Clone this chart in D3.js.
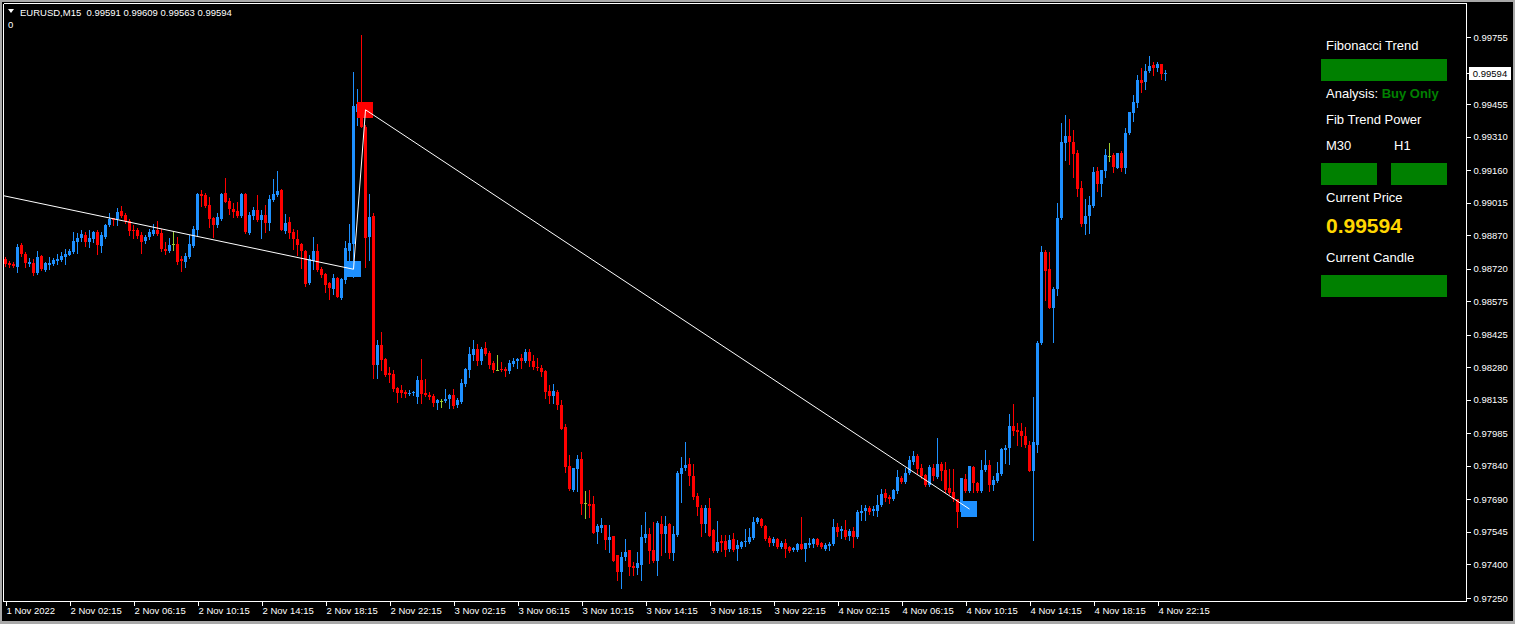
<!DOCTYPE html>
<html><head><meta charset="utf-8">
<script src="https://cdn.jsdelivr.net/npm/d3@7"></script>
<style>html,body{margin:0;padding:0;background:#000;overflow:hidden}svg{display:block}</style>
</head><body><script>
const symbol = "EURUSD,M15";
const opens = [
98764,98747,98743,98728,98826,98786,98741,98746,98700,98777,
98715,98737,98741,98755,98759,98771,98783,98795,98841,98857,
98871,98841,98854,98884,98823,98863,98915,98945,98941,98977,
98959,98935,98893,98893,98869,98843,98861,98875,98894,98878,
98808,98801,98830,98830,98762,98750,98771,98822,98893,99055,
99051,99005,98948,98915,98942,99058,99023,98987,98978,98957,
99055,98880,98957,98981,98938,98960,98924,99028,99049,99072,
98889,98927,98885,98853,98830,98801,98655,98756,98801,98718,
98697,98655,98628,98677,98591,98670,98800,98830,99420,99429,
99354,98863,98956,98290,98380,98316,98256,98250,98188,98179,
98171,98159,98164,98149,98223,98165,98156,98152,98121,98130,
98130,98138,98156,98112,98125,98207,98269,98335,98362,98308,
98366,98344,98299,98269,98272,98274,98263,98295,98308,98321,
98308,98348,98308,98281,98277,98263,98174,98152,98170,98112,
98013,97839,97733,97826,97871,97674,97670,97670,97546,97564,
97576,97509,97527,97442,97367,97432,97463,97394,97385,97399,
97518,97536,97464,97415,97580,97536,97580,97452,97531,97804,
97830,97848,97795,97705,97652,97580,97652,97554,97460,97504,
97504,97469,97513,97469,97478,97500,97500,97518,97589,97603,
97571,97518,97495,97513,97478,97495,97478,97464,97464,97491,
97469,97487,97491,97513,97495,97469,97482,97491,97567,97549,
97554,97527,97549,97522,97630,97638,97652,97638,97638,97665,
97719,97701,97692,97728,97786,97768,97808,97857,97884,97830,
97799,97754,97830,97790,97848,97821,97741,97723,97692,97634,
97781,97728,97835,97763,97728,97821,97844,97754,97772,97804,
97911,97920,98018,98000,97996,97973,97933,97817,97933,98389,
98795,98719,98546,98630,98947,99283,99313,99286,99237,99081,
98920,98956,99000,99156,99098,99158,99223,99228,99170,99237,
99170,99326,99415,99460,99563,99554,99603,99630,99616,99634,
99591].map(v => v / 100000);
const highs = [
98772,98756,98750,98831,98835,98794,98768,98762,98799,98781,
98750,98771,98767,98786,98795,98808,98808,98883,98880,98892,
98884,98893,98888,98892,98886,98920,98969,98947,98991,99000,
98968,98942,98914,98902,98884,98872,98896,98920,98933,98899,
98838,98856,98884,98861,98776,98792,98869,98911,99060,99072,
99057,99042,98950,98970,99060,99125,99037,99014,99018,99058,
99058,98973,98996,99049,98982,99005,99049,99121,99157,99076,
98966,98950,98897,98893,98834,98804,98781,98863,98831,98729,
98700,98662,98697,98685,98677,98845,98920,99599,99523,99764,
99362,99054,98970,98402,98439,98322,98283,98268,98190,98201,
98179,98179,98175,98241,98317,98228,98170,98160,98140,98137,
98183,98161,98183,98143,98228,98277,98371,98402,98384,98371,
98393,98353,98308,98335,98304,98281,98313,98321,98321,98339,
98362,98362,98335,98321,98290,98266,98201,98205,98179,98134,
98027,97888,97832,97888,97902,97728,97732,97705,97580,97607,
97578,97576,97529,97444,97457,97513,97465,97412,97457,97576,
97634,97562,97589,97594,97616,97616,97585,97571,97817,97880,
97947,97875,97848,97719,97665,97665,97697,97556,97594,97531,
97531,97531,97540,97509,97504,97558,97562,97612,97612,97607,
97576,97527,97522,97518,97504,97513,97482,97479,97494,97612,
97497,97518,97518,97518,97500,97495,97500,97603,97585,97571,
97598,97558,97567,97643,97665,97665,97661,97661,97710,97737,
97737,97710,97737,97821,97795,97830,97884,97906,97893,97848,
97804,97844,97848,97964,97857,97857,97826,97826,97694,97788,
97804,97841,97839,97768,97866,97911,97866,97795,97857,97920,
97933,98071,98116,98031,98031,98013,97951,98147,98397,98822,
98804,98795,98639,99014,99371,99407,99389,99340,99250,99112,
99031,99045,99174,99174,99163,99255,99282,99237,99239,99246,
99349,99422,99496,99585,99616,99634,99670,99643,99643,99636,
99609].map(v => v / 100000);
const lows = [
98732,98729,98726,98707,98777,98729,98733,98694,98697,98715,
98712,98720,98737,98741,98755,98743,98781,98789,98792,98845,
98820,98817,98839,98787,98797,98859,98912,98915,98915,98952,
98923,98871,98859,98857,98792,98836,98854,98869,98872,98801,
98786,98796,98804,98741,98711,98729,98768,98819,98871,99002,
98997,98908,98863,98908,98938,99017,98966,98952,98950,98952,
98880,98874,98942,98932,98859,98886,98893,99023,99046,98891,
98880,98856,98808,98781,98725,98643,98652,98718,98711,98682,
98616,98586,98606,98593,98586,98658,98746,98683,99362,99351,
98729,98759,98231,98231,98268,98241,98216,98174,98126,98149,
98149,98156,98156,98122,98122,98152,98137,98107,98095,98104,
98126,98100,98100,98104,98121,98198,98238,98313,98290,98296,
98335,98277,98260,98267,98263,98241,98254,98286,98277,98277,
98304,98286,98272,98268,98241,98143,98121,98121,98094,98003,
97813,97733,97728,97728,97625,97607,97613,97540,97497,97546,
97470,97457,97415,97330,97296,97421,97353,97353,97357,97332,
97501,97408,97411,97351,97443,97457,97427,97421,97527,97679,
97821,97755,97692,97620,97527,97545,97525,97455,97455,97460,
97437,97460,97460,97420,97473,97482,97496,97513,97585,97567,
97511,97482,97487,97473,97473,97433,97455,97461,97461,97467,
97415,97478,97478,97482,97473,97464,97464,97487,97527,97518,
97513,97509,97478,97518,97598,97598,97625,97620,97616,97661,
97683,97674,97688,97719,97763,97763,97804,97848,97804,97786,
97750,97750,97777,97786,97777,97723,97714,97683,97567,97620,
97723,97723,97723,97723,97723,97817,97728,97732,97768,97799,
97853,97848,97978,97933,97929,97924,97815,97509,97902,98384,
98581,98544,98393,98603,98942,99206,99188,99131,99046,98911,
98877,98881,98996,99069,99046,99131,99201,99152,99168,99157,
99148,99322,99380,99442,99509,99523,99599,99585,99603,99567,
99563].map(v => v / 100000);
const closes = [
98741,98738,98734,98817,98786,98744,98750,98702,98771,98718,
98746,98746,98760,98765,98777,98786,98801,98844,98857,98875,
98841,98857,98884,98828,98872,98917,98943,98936,98973,98957,
98932,98890,98887,98868,98839,98863,98883,98893,98875,98807,
98801,98826,98830,98752,98753,98777,98830,98896,99054,99046,
99002,98942,98915,98951,99055,99019,98987,98975,98957,99052,
98883,98960,98981,98938,98960,98924,99031,99054,99067,98893,
98924,98880,98853,98826,98801,98652,98765,98801,98715,98692,
98647,98635,98677,98595,98674,98811,98834,99447,99456,99353,
98856,98950,98290,98380,98313,98246,98246,98182,98167,98167,
98162,98167,98171,98223,98162,98156,98146,98119,98134,98130,
98138,98156,98107,98134,98210,98272,98339,98362,98308,98362,
98339,98290,98269,98269,98268,98263,98299,98308,98317,98308,
98348,98308,98281,98276,98259,98170,98152,98174,98112,98005,
97835,97737,97830,97871,97670,97674,97661,97542,97571,97576,
97509,97522,97417,97367,97434,97457,97390,97385,97408,97522,
97536,97460,97415,97585,97536,97571,97452,97536,97808,97830,
97844,97795,97701,97656,97580,97652,97527,97460,97500,97495,
97464,97509,97464,97487,97500,97504,97522,97589,97607,97571,
97513,97495,97513,97478,97495,97469,97460,97473,97491,97469,
97495,97495,97513,97487,97478,97487,97491,97567,97545,97558,
97522,97549,97522,97634,97638,97652,97634,97647,97665,97714,
97696,97692,97732,97790,97768,97808,97866,97884,97826,97795,
97754,97835,97795,97848,97817,97732,97719,97692,97634,97786,
97728,97839,97763,97728,97821,97844,97754,97777,97808,97915,
97920,98018,97996,97991,97973,97933,97817,97947,98389,98795,
98710,98546,98630,98947,99286,99313,99286,99232,99077,98920,
98956,99005,99152,99098,99161,99228,99223,99174,99237,99170,
99326,99420,99465,99563,99549,99603,99625,99616,99634,99591,
99594].map(v => v / 100000);

const priceTicks = [0.97250,0.97400,0.97545,0.97690,0.97840,0.97985,0.98135,0.98280,0.98425,0.98575,0.98720,0.98870,0.99015,0.99160,0.99310,0.99455,0.99755];
const timeTickIndex = [0,16,32,48,64,80,96,112,128,144,160,176,192,208,224,240,256,272,288];
const timeTickLabels = ["1 Nov 2022","2 Nov 02:15","2 Nov 06:15","2 Nov 10:15","2 Nov 14:15","2 Nov 18:15","2 Nov 22:15","3 Nov 02:15","3 Nov 06:15","3 Nov 10:15","3 Nov 14:15","3 Nov 18:15","3 Nov 22:15","4 Nov 02:15","4 Nov 06:15","4 Nov 10:15","4 Nov 14:15","4 Nov 18:15","4 Nov 22:15"];
// zigzag vertices: candle index, price, marker kind
const zigIndex = [-10, 87, 90, 241];
const zigPrice = [0.99082, 0.98718, 0.99430, 0.97647];
const zigMarker = ["none", "low", "high", "low"];
const panelLabels = ["Fibonacci Trend", "Analysis:", "Buy Only", "Fib Trend Power", "M30", "H1", "Current Price", "Current Candle"];

const W = 1515, H = 624;
const BULL = "#1e90ff", BEAR = "#ff0000", DOJI = "#9acd32", GREEN = "#008000";
const FONT = "'Liberation Sans', Arial, sans-serif";

const svg = d3.select("body").append("svg").attr("width", W).attr("height", H)
  .style("font-family", FONT);
svg.append("rect").attr("width", W).attr("height", H).attr("fill", "#a8a8a8");
svg.append("rect").attr("x", 2).attr("y", 2).attr("width", W - 4).attr("height", H - 5).attr("fill", "#000");

const plotL = 3.5, plotR = 1466.5, plotT = 3.5, plotB = 601.5;
const x = d3.scaleLinear().domain([0, 290]).range([5.5, 1165.5]);
const y = d3.scaleLinear().domain([0.97250, 0.99755]).range([598, 37]);

svg.append("defs").append("clipPath").attr("id", "plotclip")
  .append("rect").attr("x", plotL + 0.5).attr("y", plotT + 0.5).attr("width", plotR - plotL - 1).attr("height", plotB - plotT - 1);

const plot = svg.append("g").attr("clip-path", "url(#plotclip)");

const data = opens.map((o, i) => ({ i, o, h: highs[i], l: lows[i], c: closes[i] }));
const col = d => d.c > d.o ? BULL : (d.c < d.o ? BEAR : DOJI);

const cg = plot.append("g").attr("shape-rendering", "crispEdges");
cg.selectAll("line.wick").data(data).join("line").attr("class", "wick")
  .attr("x1", d => x(d.i)).attr("x2", d => x(d.i))
  .attr("y1", d => Math.round(y(d.h))).attr("y2", d => Math.round(y(d.l)) + 1)
  .attr("stroke", col).attr("stroke-width", 1);
cg.selectAll("rect.body").data(data).join("rect").attr("class", "body")
  .attr("x", d => x(d.i) - 1.5).attr("width", 3)
  .attr("y", d => Math.round(y(Math.max(d.o, d.c))))
  .attr("height", d => Math.max(1, Math.round(y(Math.min(d.o, d.c))) - Math.round(y(Math.max(d.o, d.c)))))
  .attr("fill", col);

// markers
const zig = zigIndex.map((i, k) => ({ i, p: zigPrice[k], m: zigMarker[k] }));
plot.selectAll("rect.mark").data(zig.filter(d => d.m !== "none")).join("rect").attr("class", "mark")
  .attr("x", d => Math.round(x(d.i)) - 9).attr("y", d => Math.round(y(d.p)) - 8)
  .attr("width", 16).attr("height", 16)
  .attr("fill", d => d.m === "low" ? BULL : BEAR);

// zigzag line
plot.append("path").datum(zig)
  .attr("d", d3.line().x(d => x(d.i)).y(d => y(d.p)))
  .attr("fill", "none").attr("stroke", "#fff").attr("stroke-width", 1);

// frame
const fr = svg.append("g").attr("stroke", "#fff").attr("stroke-width", 1).attr("shape-rendering", "crispEdges");
fr.append("line").attr("x1", plotL).attr("x2", plotR).attr("y1", plotT).attr("y2", plotT);
fr.append("line").attr("x1", plotL).attr("x2", plotL).attr("y1", plotT).attr("y2", plotB);
fr.append("line").attr("x1", plotL).attr("x2", plotR).attr("y1", plotB).attr("y2", plotB);
fr.append("line").attr("x1", plotR).attr("x2", plotR).attr("y1", plotT).attr("y2", plotB);

// price axis
const fmt = d3.format(".5f");
const yAxis = svg.append("g").attr("transform", `translate(${plotR},0)`)
  .call(d3.axisRight(y).tickValues(priceTicks).tickSize(4).tickPadding(3).tickFormat(fmt));
yAxis.select(".domain").remove();
yAxis.selectAll("line").attr("stroke", "#fff").attr("shape-rendering", "crispEdges");
yAxis.selectAll("text").attr("fill", "#fff").style("font-size", "9.5px").style("font-family", FONT);

// current price label
const last = data[data.length - 1];
const cy = Math.round(y(last.c));
svg.append("line").attr("x1", plotR).attr("x2", plotR + 3).attr("y1", cy + 0.5).attr("y2", cy + 0.5).attr("stroke", "#fff");
svg.append("rect").attr("x", 1469).attr("y", cy - 6).attr("width", 42).attr("height", 13).attr("fill", "#fff");
svg.append("text").attr("x", 1490).attr("y", cy + 4).attr("text-anchor", "middle")
  .attr("fill", "#000").style("font-size", "9.5px").text(fmt(last.c));

// time axis
const xAxis = svg.append("g").attr("transform", `translate(0,${plotB})`)
  .call(d3.axisBottom(x).tickValues(timeTickIndex).tickSize(4).tickPadding(2)
    .tickFormat((d, k) => timeTickLabels[k]));
xAxis.select(".domain").remove();
xAxis.selectAll("line").attr("stroke", "#fff").attr("shape-rendering", "crispEdges");
xAxis.selectAll("text").attr("fill", "#fff").attr("text-anchor", "start").attr("dx", "0.5")
  .style("font-size", "9.5px").style("font-family", FONT);

// header
svg.append("path").attr("d", "M8,9 L14,9 L11,13 Z").attr("fill", "#fff");
svg.append("text").attr("x", 20).attr("y", 16).attr("fill", "#fff").style("font-size", "9.5px")
  .attr("xml:space", "preserve")
  .text(`${symbol}  ${fmt(last.o)} ${fmt(last.h)} ${fmt(last.l)} ${fmt(last.c)}`);
svg.append("text").attr("x", 8).attr("y", 28).attr("fill", "#fff").style("font-size", "9.5px").text("0");

// info panel
const pn = svg.append("g").style("font-size", "13px");
pn.append("text").attr("x", 1326).attr("y", 50).attr("fill", "#fff").text(panelLabels[0]);
pn.append("rect").attr("x", 1321).attr("y", 59).attr("width", 126).attr("height", 22).attr("fill", GREEN);
const an = pn.append("text").attr("x", 1326).attr("y", 98).attr("fill", "#fff");
an.append("tspan").text(panelLabels[1] + " ");
an.append("tspan").attr("fill", GREEN).attr("font-weight", "bold").text(panelLabels[2]);
pn.append("text").attr("x", 1326).attr("y", 124).attr("fill", "#fff").text(panelLabels[3]);
pn.append("text").attr("x", 1326).attr("y", 150).attr("fill", "#fff").text(panelLabels[4]);
pn.append("text").attr("x", 1394).attr("y", 150).attr("fill", "#fff").text(panelLabels[5]);
pn.append("rect").attr("x", 1321).attr("y", 163).attr("width", 56).attr("height", 22).attr("fill", GREEN);
pn.append("rect").attr("x", 1391).attr("y", 163).attr("width", 56).attr("height", 22).attr("fill", GREEN);
pn.append("text").attr("x", 1326).attr("y", 202).attr("fill", "#fff").text(panelLabels[6]);
pn.append("text").attr("x", 1326).attr("y", 233).attr("fill", "#ffd700").attr("font-weight", "bold")
  .style("font-size", "21px").text(fmt(last.c));
pn.append("text").attr("x", 1326).attr("y", 262).attr("fill", "#fff").text(panelLabels[7]);
pn.append("rect").attr("x", 1321).attr("y", 275).attr("width", 126).attr("height", 22).attr("fill", GREEN);
</script></body></html>
